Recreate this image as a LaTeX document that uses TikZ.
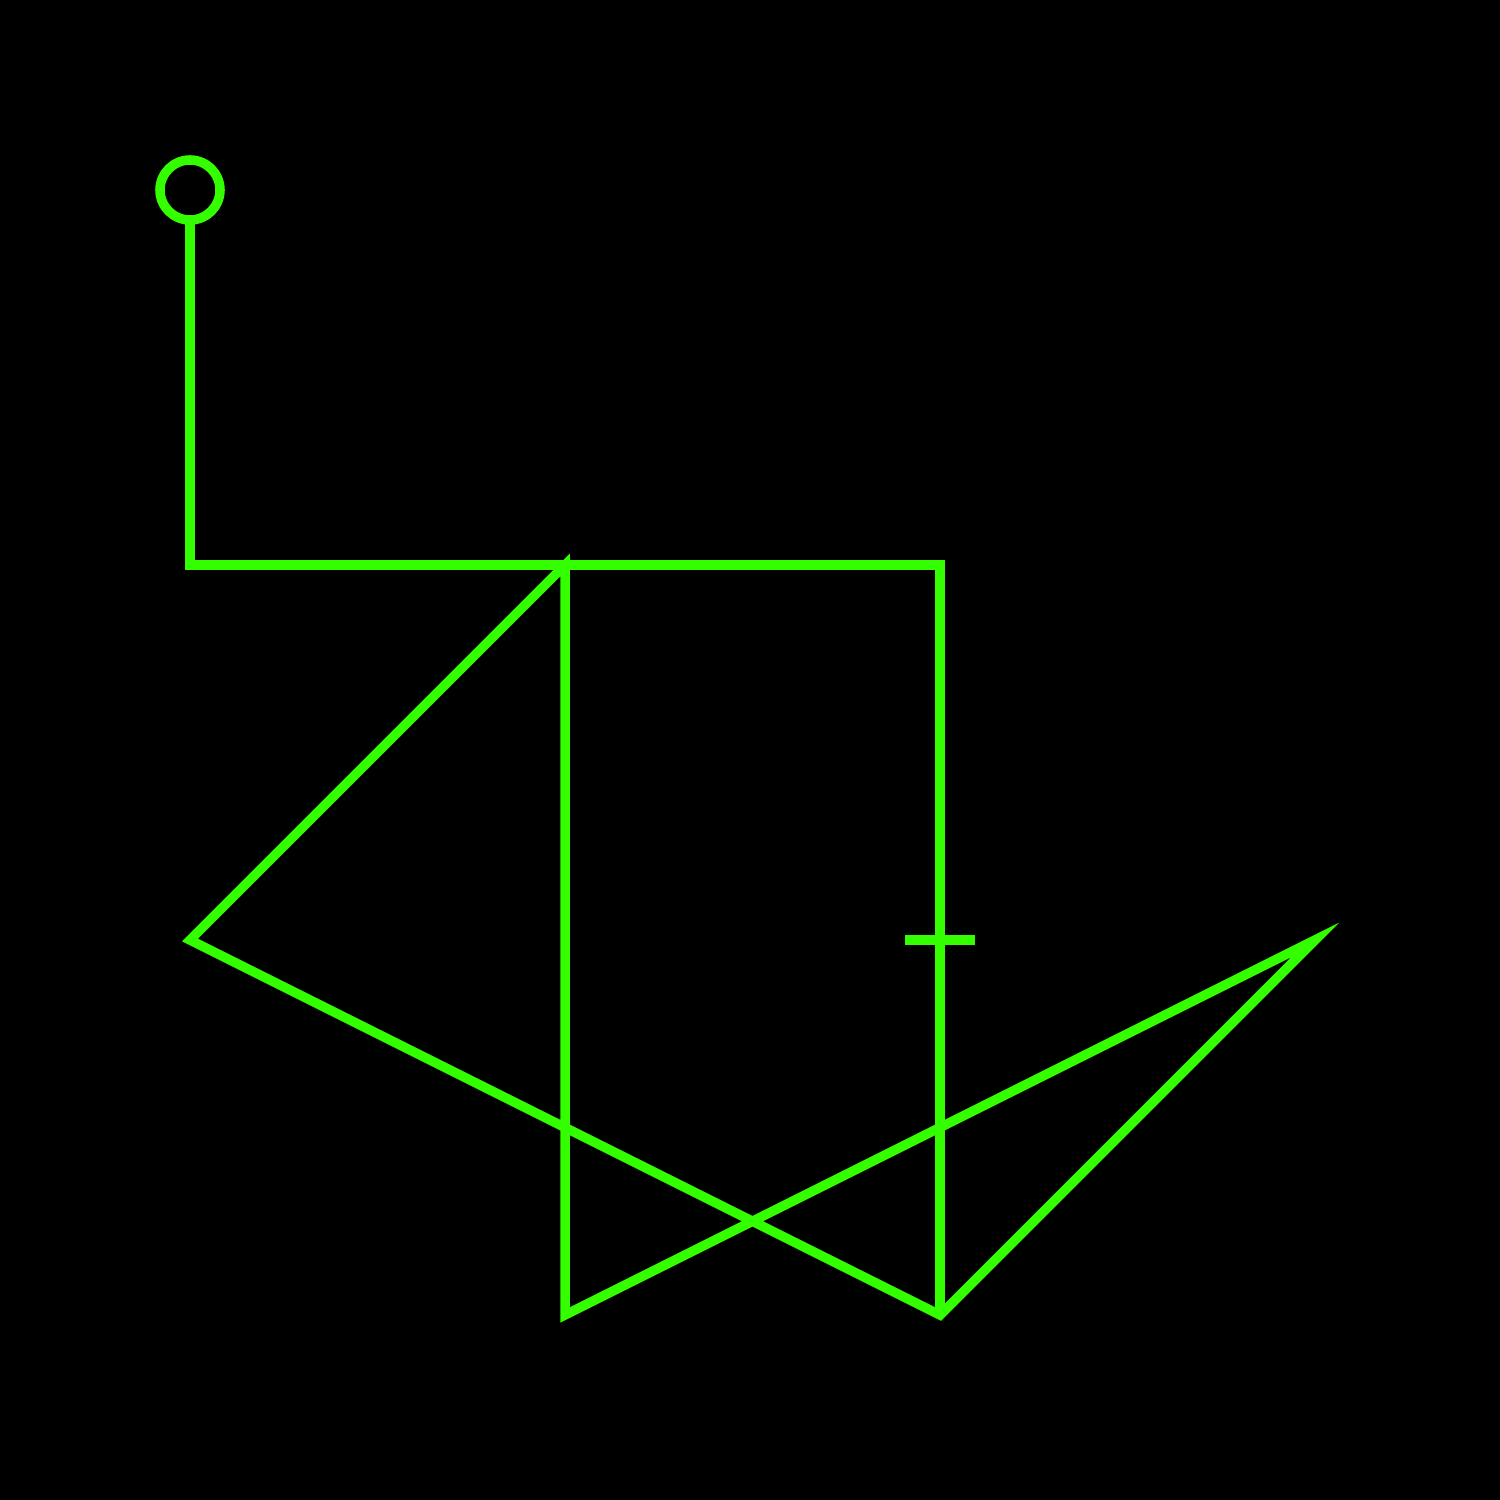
\documentclass[tikz,border=0pt]{standalone}
\definecolor{lime}{HTML}{33FF00}
\begin{document}
\begin{tikzpicture}[x=0.01cm,y=-0.01cm,
  wire/.style={draw=lime,line width=0.095cm,miter limit=10}]
\fill[black] (0,0) rectangle (1500,1500);
\useasboundingbox (0,0) rectangle (1500,1500);
\node[circle,draw=lime,line width=0.095cm,minimum size=0.6cm,inner sep=0pt,outer sep=0pt] (s) at (190,190) {};
\coordinate (a) at (190,565);
\coordinate (b) at (940,565);
\coordinate (c) at (940,1315);
\coordinate (m) at (940,940);
\coordinate (p1) at (565,565);
\coordinate (p2) at (190,940);
\coordinate (p3) at (940,1315);
\coordinate (p4) at (1315,940);
\coordinate (p5) at (565,1315);
\draw[wire] (s.south) -- (a) -- (b) -- (c);
\draw[wire] ([xshift=-0.35cm]m) -- ([xshift=0.35cm]m);
\draw[wire] (p1) -- (p2) -- (p3) -- (p4) -- (p5) -- cycle;
\end{tikzpicture}
\end{document}
